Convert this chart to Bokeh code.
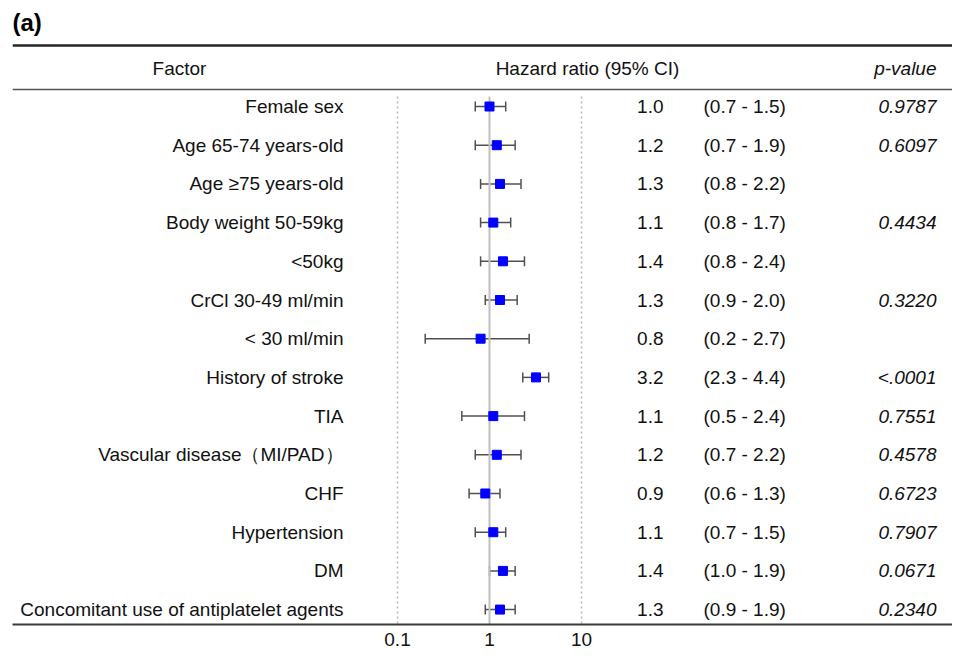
from bokeh.plotting import figure
from bokeh.models import (Range1d, FixedTicker, CustomJSTickFormatter, ColumnDataSource,
                          Whisker, TeeHead, Span)
from bokeh.core.properties import value
from bokeh.embed import file_html
from bokeh.resources import INLINE

# ---------------- data ----------------
factors = ["Female sex", "Age 65-74 years-old", "Age \u226575 years-old", "Body weight 50-59kg",
           "<50kg", "CrCl 30-49 ml/min", "< 30 ml/min", "History of stroke", "TIA",
           "Vascular disease\uff08MI/PAD\uff09", "CHF", "Hypertension", "DM",
           "Concomitant use of antiplatelet agents"]
hr = [1.0, 1.2, 1.3, 1.1, 1.4, 1.3, 0.8, 3.2, 1.1, 1.2, 0.9, 1.1, 1.4, 1.3]
ci_low = [0.7, 0.7, 0.8, 0.8, 0.8, 0.9, 0.2, 2.3, 0.5, 0.7, 0.6, 0.7, 1.0, 0.9]
ci_high = [1.5, 1.9, 2.2, 1.7, 2.4, 2.0, 2.7, 4.4, 2.4, 2.2, 1.3, 1.5, 1.9, 1.9]
p_values = ["0.9787", "0.6097", "", "0.4434", "", "0.3220", "", "<.0001", "0.7551",
            "0.4578", "0.6723", "0.7907", "0.0671", "0.2340"]
tick_values = [0.1, 1, 10]
headers = ["Factor", "Hazard ratio (95% CI)", "p-value"]
panel_label = "(a)"

# ---------------- layout helpers (picture pixel -> data) ----------------
W, H = 952, 655
ROW0, ROWH = 106.0, 38.7      # picture y of first row, row spacing
X1, DEC = 489.0, 92.0         # picture x of HR=1, pixels per decade
LEFT, BOTTOM = 12, 624        # frame left edge / bottom edge in picture pixels


def yimg(py):
    return -(py - ROW0) / ROWH


def ximg(px):
    return 10 ** ((px - X1) / DEC)


FONT_NAME = "Liberation Sans"
FONT = value(FONT_NAME)
FS = "19px"
TXT = "#111111"

rows = list(range(len(factors)))
src = ColumnDataSource(dict(
    y=[-i for i in rows],
    factor=factors,
    hr=hr,
    lo=ci_low,
    hi=ci_high,
    hr_txt=[f"{v:.1f}" for v in hr],
    ci_txt=[f"({a:.1f} - {b:.1f})" for a, b in zip(ci_low, ci_high)],
    p=p_values,
))

p = figure(width=W, height=H, output_backend="svg", toolbar_location=None,
           x_axis_type="log", y_axis_location=None,
           x_range=Range1d(ximg(LEFT), ximg(W)), y_range=Range1d(yimg(BOTTOM), yimg(0)),
           min_border_left=LEFT, min_border_right=0, min_border_top=0,
           min_border_bottom=H - BOTTOM)
p.outline_line_color = None
p.xgrid.visible = False
p.ygrid.visible = False
p.background_fill_color = "white"
p.border_fill_color = "white"

# axis
ax = p.xaxis[0]
ax.ticker = FixedTicker(ticks=tick_values)
ax.formatter = CustomJSTickFormatter(code="return String(tick)")
ax.major_tick_line_color = None
ax.minor_tick_line_color = None
ax.major_tick_out = 0
ax.major_tick_in = 0
ax.major_label_standoff = 8
ax.major_label_text_font = FONT_NAME
ax.major_label_text_font_size = FS
ax.major_label_text_color = TXT
ax.axis_line_color = "#3a3a3a"
ax.axis_line_width = 2

# horizontal rules
p.add_layout(Span(location=yimg(45), dimension="width", line_color="#262626", line_width=2.5))
p.add_layout(Span(location=yimg(89), dimension="width", line_color="#555555", line_width=1.5))

# reference lines
ytop, ybot = yimg(96), yimg(BOTTOM)
p.segment(x0=[tick_values[1]], y0=[ytop], x1=[tick_values[1]], y1=[ybot],
          line_color="#c0c0c0", line_width=2)
p.segment(x0=[tick_values[0], tick_values[2]], y0=[ytop, ytop],
          x1=[tick_values[0], tick_values[2]], y1=[ybot, ybot],
          line_color="#b8b8b8", line_width=1.5, line_dash="2 3")

# whiskers + markers
wk = Whisker(source=src, base="y", lower="lo", upper="hi", dimension="width",
             line_color="#505050", line_width=1.5,
             lower_head=TeeHead(size=10, line_color="#505050", line_width=1.5),
             upper_head=TeeHead(size=10, line_color="#505050", line_width=1.5))
p.add_layout(wk)
p.scatter(x="hr", y="y", source=src, marker="square", size=9,
          fill_color="#0000ff", line_color="#0000ff")

# text columns
common = dict(source=src, y="y", text_font=FONT, text_font_size=FS,
              text_color=TXT, text_baseline="middle")
p.text(x=ximg(343), text="factor", text_align="right", **common)
p.text(x=ximg(663), text="hr_txt", text_align="right", **common)
p.text(x=ximg(703), text="ci_txt", text_align="left", **common)
p.text(x=ximg(936), text="p", text_align="right", text_font_style="italic", **common)

# headers
hy = yimg(68)
p.text(x=[ximg(179)], y=[hy], text=[headers[0]], text_align="center", text_baseline="middle",
       text_font=FONT, text_font_size=FS, text_color=TXT)
p.text(x=[ximg(587)], y=[hy], text=[headers[1]], text_align="center", text_baseline="middle",
       text_font=FONT, text_font_size=FS, text_color=TXT)
p.text(x=[ximg(936)], y=[hy], text=[headers[2]], text_align="right", text_baseline="middle",
       text_font=FONT, text_font_size=FS, text_color=TXT, text_font_style="italic")

# panel label
p.text(x=[ximg(LEFT)], y=[yimg(22)], text=[panel_label], text_align="left", text_baseline="middle",
       text_font=FONT, text_font_size="24px", text_font_style="bold", text_color="#000000")

open("out.html", "w").write(file_html(p, INLINE))
